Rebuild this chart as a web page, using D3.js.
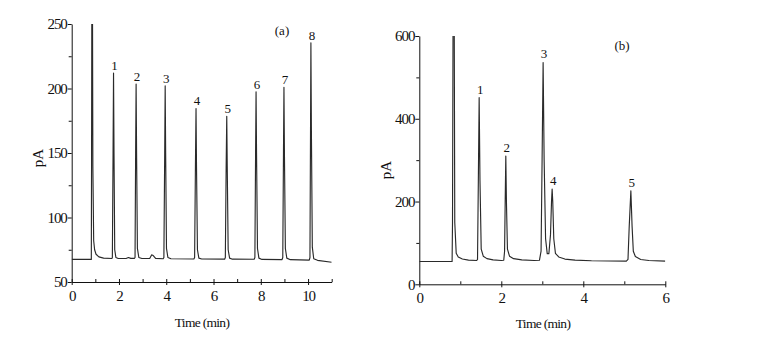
<!DOCTYPE html>
<html>
<head>
<meta charset="utf-8">
<script src="https://cdn.jsdelivr.net/npm/d3@7"></script>
<style>
  body { margin: 0; background: #fff; }
  svg { display: block; font-family: "Liberation Serif", "DejaVu Serif", serif; }
  svg text { font-family: "Liberation Serif", "DejaVu Serif", serif; }
  .tick text { font-size: 15px; letter-spacing: -1.1px; fill: #111; }
  .domain, .tick line { stroke: #111; stroke-width: 1; }
</style>
</head>
<body>
<svg id="chart" width="771" height="338"></svg>
<script>
// chromatogram (a): [time min, signal pA]
const traceA = [
  [0,67.5],[0.83,67.5],[0.84,140],[0.855,300],[0.875,300],[0.895,140],[0.93,82],[0.97,75],[1.03,71.5],[1.15,69.5],[1.35,68.5],[1.7,68.2],
  [1.72,69],[1.75,150],[1.77,212],[1.79,150],[1.82,75],[1.87,69],[1.97,68.2],
  [2.3,68.2],[2.4,69],[2.5,68.3],[2.65,68.3],
  [2.68,69],[2.705,150],[2.725,203.5],[2.745,150],[2.78,76],[2.84,69],[2.97,68.2],
  [3.3,68.2],[3.38,71],[3.45,70.5],[3.55,68.3],[3.87,68],
  [3.9,69],[3.935,150],[3.955,202],[3.975,150],[4.01,76],[4.07,69],[4.2,68],
  [5.17,67.8],[5.2,69],[5.235,140],[5.26,184.5],[5.28,140],[5.32,75],[5.38,68.5],[5.5,67.8],
  [6.47,67.7],[6.5,69],[6.535,140],[6.56,178.5],[6.58,140],[6.62,75],[6.68,68.5],[6.8,67.7],
  [7.72,67.6],[7.75,69],[7.78,150],[7.80,197.5],[7.82,150],[7.86,76],[7.92,68.5],[8.05,67.5],
  [8.9,67.4],[8.93,69],[8.96,150],[8.98,201],[9.0,150],[9.04,76],[9.1,68.5],[9.25,67.3],
  [10.05,67],[10.08,69],[10.105,170],[10.12,235.5],[10.14,170],[10.18,77],[10.24,68],[10.4,66.8],
  [11,65.3]
];
const labelsA = [
  ["1",1.77,212],["2",2.725,203.5],["3",3.955,202],["4",5.26,184.5],
  ["5",6.56,178.5],["6",7.80,197.5],["7",8.98,201],["8",10.12,235.5]
];
const xMajorA = [0,2,4,6,8,10];
const xMinorA = [1,3,5,7,9,11];
const yMajorA = [50,100,150,200,250];
const yMinorA = [75,125,175,225];

// chromatogram (b)
const traceB = [
  [0,55],[0.8,55],[0.81,150],[0.825,700],[0.85,700],[0.865,150],[0.9,75],[0.95,66],[1.05,61],[1.2,58.5],[1.4,57.5],
  [1.42,60],[1.44,250],[1.46,451],[1.48,250],[1.51,85],[1.56,68],[1.65,62],[1.8,59],[2.0,57.5],[2.06,58],
  [2.08,80],[2.095,200],[2.11,310],[2.125,200],[2.15,85],[2.2,68],[2.3,62],[2.5,59],[2.8,57.5],[2.93,58],
  [2.97,80],[2.995,300],[3.02,536],[3.045,300],[3.08,110],[3.12,74],[3.16,74],[3.2,120],[3.225,200],[3.24,230],[3.255,200],[3.28,110],[3.32,75],[3.4,66],[3.55,61],[3.8,58.5],[4.2,57],[5.05,56],
  [5.09,60],[5.12,140],[5.16,226],[5.19,140],[5.22,80],[5.27,67],[5.4,60],[5.6,57.5],[6,56]
];
const labelsB = [
  ["1",1.46,451],["2",2.11,310],["3",3.02,536],["4",3.24,230],["5",5.16,226]
];
const xMajorB = [0,2,4,6];
const xMinorB = [1,3,5];
const yMajorB = [0,200,400,600];
const yMinorB = [100,300,500];

const svg = d3.select('#chart');
const serif = '"Liberation Serif", "DejaVu Serif", serif';

function panel(opt){
  const {id,trace,labels,xDom,yDom,xr,yr,xMajor,xMinor,yMajor,yMinor,tag,tagPos,pAPos,timePos,labelDy} = opt;
  const x = d3.scaleLinear().domain(xDom).range(xr);
  const y = d3.scaleLinear().domain(yDom).range(yr);
  const g = svg.append('g');

  g.append('clipPath').attr('id','clip'+id)
    .append('rect')
    .attr('x',xr[0]).attr('y',yr[1])
    .attr('width',xr[1]-xr[0]).attr('height',yr[0]-yr[1]);

  // minor ticks first, then the labelled axes
  g.append('g').attr('transform',`translate(0,${yr[0]})`)
    .call(d3.axisBottom(x).tickValues(xMinor).tickFormat('').tickSizeInner(-3).tickSizeOuter(0))
    .call(s=>s.select('.domain').remove());
  g.append('g').attr('transform',`translate(${xr[0]},0)`)
    .call(d3.axisLeft(y).tickValues(yMinor).tickFormat('').tickSizeInner(3).tickSizeOuter(0))
    .call(s=>s.select('.domain').remove());

  const ax = g.append('g').attr('transform',`translate(0,${yr[0]})`)
    .call(d3.axisBottom(x).tickValues(xMajor).tickFormat(d3.format('d')).tickSizeInner(3).tickSizeOuter(0).tickPadding(5))
    .attr('font-family',serif);
  ax.selectAll('.tick line').attr('y1',-3);
  ax.selectAll('.tick text').attr('dy','0.71em');

  g.append('g').attr('transform',`translate(${xr[0]},0)`)
    .call(d3.axisLeft(y).tickValues(yMajor).tickFormat(d3.format('d')).tickSizeInner(4).tickSizeOuter(0).tickPadding(1))
    .attr('font-family',serif);

  const line = d3.line().x(d=>x(d[0])).y(d=>y(d[1]));
  g.append('path')
    .datum(trace)
    .attr('clip-path',`url(#clip${id})`)
    .attr('d',line)
    .attr('fill','none')
    .attr('stroke','#2a2a2a')
    .attr('stroke-width',1.15)
    .attr('stroke-linejoin','round');

  g.selectAll('text.peak')
    .data(labels)
    .join('text')
    .attr('class','peak')
    .attr('x',d=>x(d[1])+1)
    .attr('y',d=>y(d[2])-labelDy)
    .attr('text-anchor','middle')
    .attr('font-size',13)
    .attr('fill','#111')
    .text(d=>d[0]);

  g.append('text')
    .attr('x',tagPos[0]).attr('y',tagPos[1])
    .attr('text-anchor','middle')
    .attr('font-size',13)
    .attr('fill','#111')
    .text(tag);

  g.append('text')
    .attr('transform',`translate(${pAPos[0]},${pAPos[1]}) rotate(-90)`)
    .attr('text-anchor','middle')
    .attr('font-size',15)
    .attr('fill','#111')
    .text('pA');

  g.append('text')
    .attr('x',timePos[0]).attr('y',timePos[1])
    .attr('text-anchor','middle')
    .attr('font-size',13.5)
    .attr('letter-spacing','-0.7px')
    .attr('fill','#111')
    .text('Time (min)');
}

panel({
  id:'a', trace:traceA, labels:labelsA,
  xDom:[0,11], yDom:[50,250], xr:[71.7,331.7], yr:[282,24],
  xMajor:xMajorA, xMinor:xMinorA, yMajor:yMajorA, yMinor:yMinorA,
  tag:'(a)', tagPos:[282,35], pAPos:[43,158], timePos:[202,327], labelDy:3
});
panel({
  id:'b', trace:traceB, labels:labelsB,
  xDom:[0,6], yDom:[0,600], xr:[419.3,665.3], yr:[284.3,36],
  xMajor:xMajorB, xMinor:xMinorB, yMajor:yMajorB, yMinor:yMinorB,
  tag:'(b)', tagPos:[622,50], pAPos:[391,170], timePos:[543,328], labelDy:4
});
</script>
</body>
</html>
